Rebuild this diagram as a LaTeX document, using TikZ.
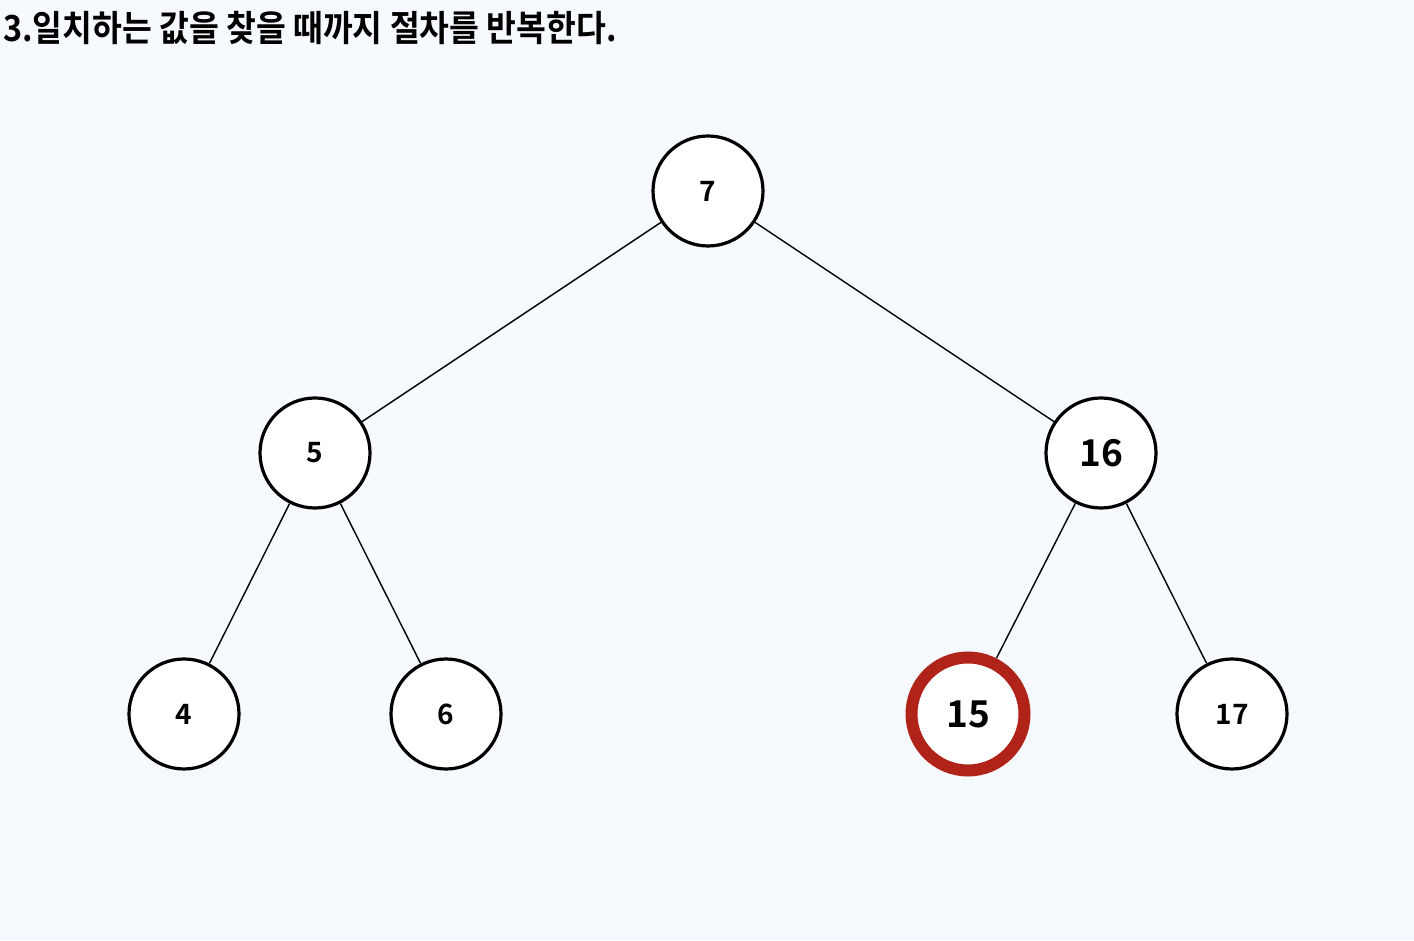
\documentclass[tikz,border=0pt]{standalone}
\usepackage{fontspec}
\setmainfont{Noto Sans CJK KR}[BoldFont={* Bold}]
\usepackage{tikz}
\usepackage{xcolor}
\definecolor{bgblue}{HTML}{F6F9FE}
\definecolor{hitred}{HTML}{B02318}

\begin{document}
\begin{tikzpicture}[x=1pt,y=1pt,
  key/.style={circle,draw=black,line width=3.2pt,fill=white,minimum size=110pt,inner sep=0pt,font=\bfseries\fontsize{28}{28}\selectfont},
  bigkey/.style={key,font=\bfseries\fontsize{37}{37}\selectfont},
  found/.style={bigkey,draw=hitred,line width=12pt,minimum size=113pt},
  edge/.style={line width=1.4pt}]
\fill[bgblue] (0,0) rectangle (1414,940);
\useasboundingbox (0,0) rectangle (1414,940);
% title
\node[anchor=base west,inner sep=0pt,font=\bfseries\fontsize{36}{36}\selectfont,xscale=0.9,transform shape] (title) at (3,898) {3.일치하는 값을 찾을 때까지 절차를 반복한다.};
% tree
\node[key] (n7) at (708,749) {7};
\node[key] (n5) at (315,487) {5};
\node[bigkey] (n16) at (1101,487) {16};
\node[key] (n4) at (184,226) {4};
\node[key] (n6) at (446,226) {6};
\node[found] (n15) at (968,226) {15};
\node[key] (n17) at (1232,226) {17};
\draw[edge] (n7) -- (n5);
\draw[edge] (n7) -- (n16);
\draw[edge] (n5) -- (n4);
\draw[edge] (n5) -- (n6);
\draw[edge] (n16) -- (n15);
\draw[edge] (n16) -- (n17);
\end{tikzpicture}
\end{document}
